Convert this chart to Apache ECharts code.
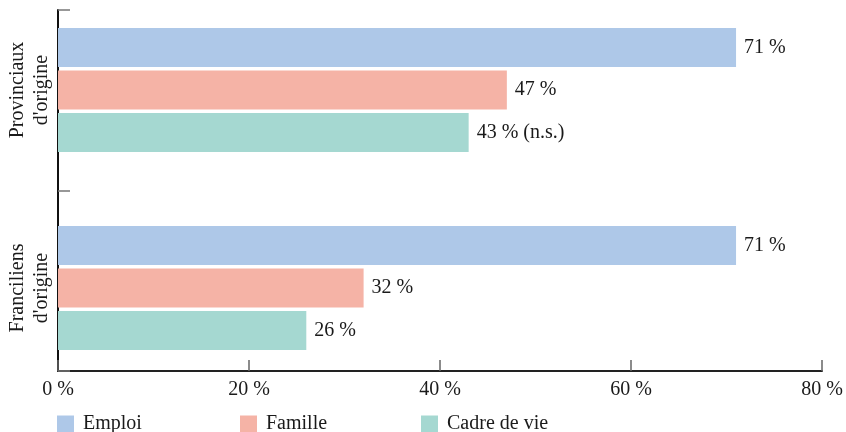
<!DOCTYPE html>
<html>
<head>
<meta charset="utf-8">
<script src="https://cdn.jsdelivr.net/npm/echarts@6/dist/echarts.min.js"></script>
<style>
html,body{margin:0;padding:0;background:#fff;}
#chart{width:846px;height:432px;}
</style>
</head>
<body>
<div id="chart"></div>
<script>
// ---- data ----
const categories = ["Provinciaux\nd'origine", "Franciliens\nd'origine"];
const seriesNames = ['Emploi', 'Famille', 'Cadre de vie'];
const emploi = [71, 71];
const famille = [47, 32];
const cadreDeVie = [43, 26];
const cadreNotes = ['(n.s.)', ''];
const xTicks = [0, 20, 40, 60, 80];

const FONT = "'Liberation Serif', 'DejaVu Serif', serif";
const TXT = '#1a1a1a';
const colors = ['#aec8e8', '#f5b3a6', '#a5d8d1'];

function makeSeries(name, values, color, notes) {
  return {
    name: name, type: 'bar', xAxisIndex: 0, yAxisIndex: 0,
    barWidth: 39, barGap: '9%',
    itemStyle: { color: color },
    label: {
      show: true, position: 'right', distance: 8,
      fontFamily: FONT, fontSize: 20, color: TXT,
      formatter: function (p) {
        const n = notes ? notes[p.dataIndex] : '';
        return p.value + ' %' + (n ? ' ' + n : '');
      }
    },
    data: values
  };
}

const chart = echarts.init(document.getElementById('chart'), null, { renderer: 'canvas' });
chart.setOption({
  animation: false,
  backgroundColor: '#fff',
  textStyle: { fontFamily: FONT },
  grid: [
    { left: 58, right: 24, top: 90, bottom: 144 },
    { left: 58, right: 24, top: 10, bottom: 61 }
  ],
  xAxis: [
    { gridIndex: 0, type: 'value', min: xTicks[0], max: xTicks[xTicks.length - 1], interval: 20, show: false },
    {
      gridIndex: 1, type: 'value', min: xTicks[0], max: xTicks[xTicks.length - 1], interval: 20,
      axisLine: { show: true, lineStyle: { color: '#222', width: 2 } },
      axisTick: { show: true, inside: true, length: 11, lineStyle: { color: '#666', width: 1.5 } },
      splitLine: { show: false },
      axisLabel: { fontFamily: FONT, fontSize: 20, color: TXT, margin: 9, formatter: '{value} %' }
    }
  ],
  yAxis: [
    {
      gridIndex: 0, type: 'category', inverse: true, boundaryGap: false, data: categories,
      axisLine: { show: false }, axisTick: { show: false }, splitLine: { show: false },
      axisLabel: { rotate: 90, fontFamily: FONT, fontSize: 20, color: TXT, lineHeight: 24, margin: 4, align: 'center' }
    },
    {
      gridIndex: 1, type: 'category', inverse: true, data: ['', ''],
      axisLine: { show: true, lineStyle: { color: '#111', width: 2 } },
      axisTick: { show: true, inside: true, length: 12, lineStyle: { color: '#777', width: 1.5 } },
      axisLabel: { show: false }
    }
  ],
  legend: [0, 1, 2].map(function (i) {
    return {
      data: [seriesNames[i]], left: [57, 240, 421][i], top: 414, padding: 0,
      itemWidth: 17, itemHeight: 17, itemGap: 0,
      icon: 'rect', textStyle: { fontFamily: FONT, fontSize: 20, color: TXT, padding: [0, 0, 0, 4] }
    };
  }),
  series: [
    makeSeries(seriesNames[0], emploi, colors[0], null),
    makeSeries(seriesNames[1], famille, colors[1], null),
    makeSeries(seriesNames[2], cadreDeVie, colors[2], cadreNotes)
  ]
});
</script>
</body>
</html>
